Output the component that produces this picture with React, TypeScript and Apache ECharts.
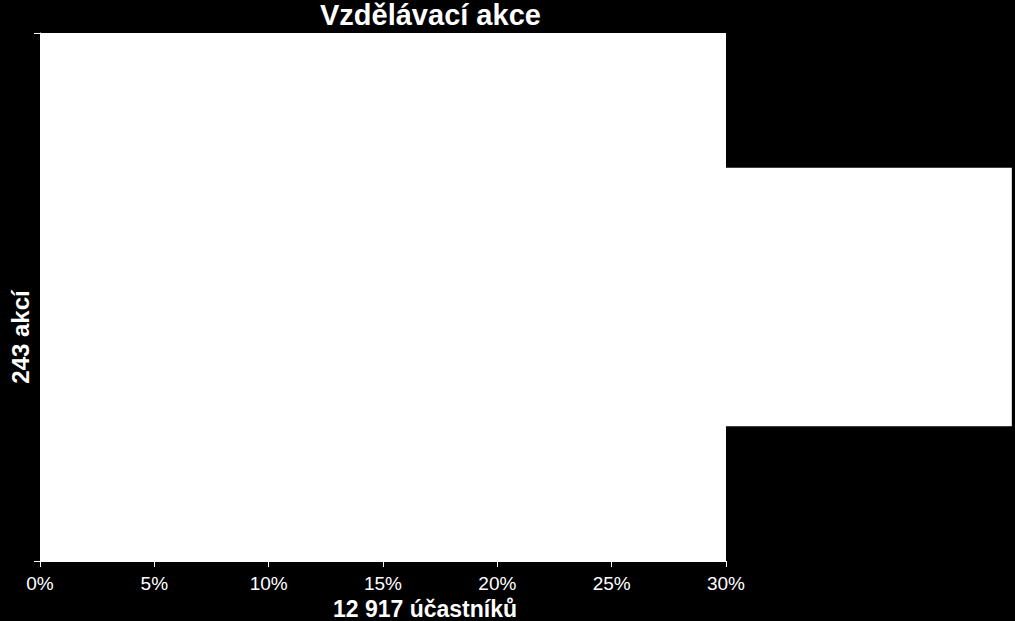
import { useEffect, useRef } from 'react'
import * as echarts from 'echarts'

const categories = ['243 akcí']
const values = [42.5]
const xTicks = [0, 5, 10, 15, 20, 25, 30]

const FONT = '"Liberation Sans", Arial, sans-serif'

export default function App() {
  const ref = useRef<HTMLDivElement>(null)

  useEffect(() => {
    if (!ref.current) return
    const chart = echarts.init(ref.current, null, { renderer: 'svg' })
    chart.setOption({
      animation: false,
      backgroundColor: '#000',
      textStyle: { fontFamily: FONT },
      title: {
        text: 'Vzdělávací akce',
        left: 320,
        top: 0,
        padding: 0,
        textStyle: { color: '#fff', fontSize: 29, lineHeight: 29, fontWeight: 'bold', fontFamily: FONT },
      },
      grid: {
        left: 40, right: 289, top: 33, bottom: 60,
        outerBoundsMode: 'none', containLabel: false,
        show: true, backgroundColor: '#fff', borderWidth: 0,
      },
      xAxis: {
        type: 'value',
        min: xTicks[0],
        max: xTicks[xTicks.length - 1],
        interval: 5,
        name: '12 917 účastníků',
        nameLocation: 'middle',
        nameGap: 30,
        nameTextStyle: {
          color: '#fff', fontSize: 23, lineHeight: 23, fontWeight: 'bold', fontFamily: FONT,
          padding: [0, 0, 0, 84],
        },
        axisLine: { show: true, lineStyle: { color: '#fff' } },
        axisTick: { show: true, length: 6, lineStyle: { color: '#fff' } },
        axisLabel: { color: '#fff', fontSize: 19, margin: 13, formatter: '{value}%', fontFamily: FONT },
        splitLine: { show: false },
      },
      yAxis: {
        type: 'category',
        data: [''],
        name: categories[0],
        nameLocation: 'middle',
        nameRotate: 90,
        nameGap: 8,
        nameTextStyle: { color: '#fff', fontSize: 24, fontWeight: 'bold', fontFamily: FONT, padding: [0, 80, 0, 0] },
        axisLine: { show: true, lineStyle: { color: '#fff' } },
        axisTick: { show: true, length: 6, lineStyle: { color: '#fff' } },
        axisLabel: { show: false },
      },
      series: [
        {
          type: 'bar',
          data: values,
          barWidth: '49%',
          clip: false,
          itemStyle: { color: '#fff' },
        },
      ],
    })
    return () => chart.dispose()
  }, [])

  return <div ref={ref} style={{ position: 'fixed', left: 0, top: 0, width: 1015, height: 621 }} />
}
